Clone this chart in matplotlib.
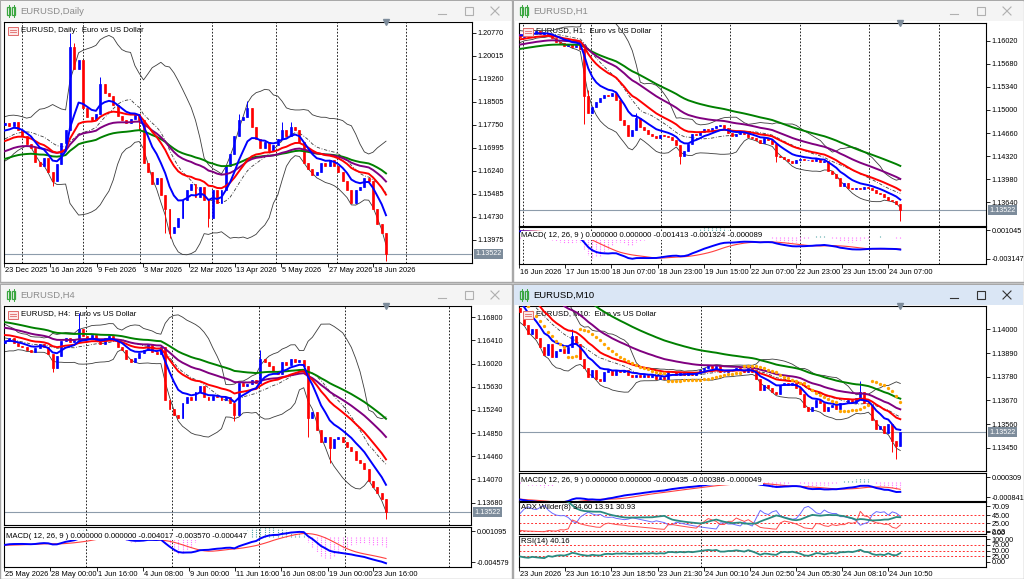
import numpy as np
import pandas as pd
import matplotlib
matplotlib.use('Agg')
import matplotlib.pyplot as plt
from matplotlib.patches import Rectangle

plt.rcParams['font.family'] = ['Liberation Sans', 'DejaVu Sans']

W, H = 1024, 579

# ------------------------------------------------------------------ data
daily_warm = [1.1590, 1.1600, 1.1620, 1.1610, 1.1640, 1.1630, 1.1655, 1.1660, 1.1645, 1.1670,
              1.1680, 1.1665, 1.1690, 1.1700, 1.1690, 1.1720, 1.1735, 1.1720, 1.1745, 1.1760,
              1.1750, 1.1770, 1.1765, 1.1775]
daily_close = [1.1780, 1.1772, 1.1785, 1.1760, 1.1738, 1.1712, 1.1700, 1.1655, 1.1640, 1.1668,
               1.1620, 1.1590, 1.1648, 1.1715, 1.1760, 1.2030, 1.1960, 1.1990, 1.1830, 1.1800,
               1.1790, 1.1810, 1.1910, 1.1880, 1.1870, 1.1840, 1.1805, 1.1790, 1.1780, 1.1795,
               1.1810, 1.1790, 1.1650, 1.1620, 1.1580, 1.1600, 1.1545, 1.1500, 1.1420, 1.1440,
               1.1470, 1.1530, 1.1560, 1.1580, 1.1540, 1.1570, 1.1530, 1.1470, 1.1560, 1.1520,
               1.1560, 1.1640, 1.1680, 1.1740, 1.1790, 1.1800, 1.1830, 1.1770, 1.1730, 1.1700,
               1.1720, 1.1690, 1.1710, 1.1730, 1.1760, 1.1740, 1.1770, 1.1760, 1.1720, 1.1650,
               1.1630, 1.1610, 1.1620, 1.1650, 1.1640, 1.1660, 1.1640, 1.1620, 1.1590, 1.1560,
               1.1520, 1.1560, 1.1570, 1.1600, 1.1590, 1.1500, 1.1450, 1.1420, 1.13522]
daily_high_ext = {15: 1.2077, 16: 1.2045, 22: 1.1932, 54: 1.1810, 56: 1.1855, 64: 1.1785, 66: 1.1785}
daily_low_ext = {11: 1.1575, 31: 1.1760, 37: 1.1420, 38: 1.1405, 47: 1.1440, 88: 1.1330}
daily_ticks = [1.20770, 1.20015, 1.19260, 1.18505, 1.17750, 1.16995, 1.16240, 1.15485, 1.14730, 1.13975]
daily_times = ["23 Dec 2025", "16 Jan 2026", "9 Feb 2026", "3 Mar 2026", "22 Mar 2026",
               "13 Apr 2026", "5 May 2026", "27 May 2026", "18 Jun 2026"]

h1_warm = [1.1570, 1.1565, 1.1575, 1.1580, 1.1578, 1.1585, 1.1590, 1.1588, 1.1595, 1.1600,
           1.1598, 1.1603, 1.1605, 1.1602, 1.1607, 1.1610, 1.1606, 1.1609, 1.1612, 1.1610,
           1.1613, 1.1611, 1.1614, 1.1612]
h1_close = [1.1608, 1.1612, 1.1615, 1.1613, 1.1616, 1.1612, 1.1614, 1.1611, 1.1606, 1.1600,
            1.1598, 1.1594, 1.1597, 1.1592, 1.1596, 1.1590, 1.1520, 1.1495, 1.1505, 1.1512,
            1.1518, 1.1522, 1.1520, 1.1525, 1.1515, 1.1485, 1.1478, 1.1462, 1.1470, 1.1488,
            1.1475, 1.1470, 1.1465, 1.1462, 1.1458, 1.1463, 1.1462, 1.1460, 1.1455, 1.1448,
            1.1432, 1.1440, 1.1450, 1.1465, 1.1463, 1.1468, 1.1472, 1.1470, 1.1474, 1.1476,
            1.1478, 1.1474, 1.1466, 1.1462, 1.1465, 1.1468, 1.1465, 1.1460, 1.1458, 1.1455,
            1.1452, 1.1458, 1.1455, 1.1450, 1.1432, 1.1430, 1.1428, 1.1425, 1.1422, 1.1426,
            1.1428, 1.1426, 1.1427, 1.1425, 1.1428, 1.1423, 1.1425, 1.1410, 1.1405, 1.1400,
            1.1388, 1.1392, 1.1385, 1.1383, 1.1385, 1.1384, 1.1386, 1.1385, 1.1382, 1.1378,
            1.1376, 1.1372, 1.1368, 1.1366, 1.1362, 1.13522]
h1_high_ext = {17: 1.1530, 29: 1.1495}
h1_low_ext = {16: 1.1480, 40: 1.1420, 64: 1.1424, 95: 1.1337}
h1_ticks = [1.16020, 1.15680, 1.15340, 1.15000, 1.14660, 1.14320, 1.13980, 1.13640]
h1_macd_ticks = [0.001045, -0.003147]
h1_times = ["16 Jun 2026", "17 Jun 15:00", "18 Jun 07:00", "18 Jun 23:00", "19 Jun 15:00",
            "22 Jun 07:00", "22 Jun 23:00", "23 Jun 15:00", "24 Jun 07:00"]

h4_warm = [1.1700, 1.1695, 1.1690, 1.1696, 1.1685, 1.1680, 1.1686, 1.1675, 1.1670, 1.1676,
           1.1665, 1.1660, 1.1666, 1.1652, 1.1648, 1.1655, 1.1640, 1.1636, 1.1642, 1.1630,
           1.1636, 1.1642, 1.1630, 1.1636]
h4_close = [1.1640, 1.1645, 1.1636, 1.1632, 1.1630, 1.1625, 1.1622, 1.1628, 1.1635, 1.1630,
            1.1618, 1.1595, 1.1615, 1.1640, 1.1645, 1.1638, 1.1642, 1.1660, 1.1648, 1.1645,
            1.1650, 1.1640, 1.1635, 1.1645, 1.1648, 1.1642, 1.1630, 1.1625, 1.1610, 1.1605,
            1.1612, 1.1620, 1.1625, 1.1635, 1.1622, 1.1618, 1.1630, 1.1540, 1.1525, 1.1515,
            1.1510, 1.1535, 1.1545, 1.1540, 1.1555, 1.1565, 1.1545, 1.1540, 1.1548, 1.1545,
            1.1540, 1.1545, 1.1535, 1.1515, 1.1570, 1.1565, 1.1568, 1.1575, 1.1570, 1.1610,
            1.1605, 1.1598, 1.1590, 1.1585, 1.1605, 1.1600, 1.1610, 1.1605, 1.1608, 1.1598,
            1.1510, 1.1520, 1.1490, 1.1470, 1.1478, 1.1460, 1.1475, 1.1478, 1.1470, 1.1462,
            1.1455, 1.1440, 1.1435, 1.1425, 1.1405, 1.1395, 1.1385, 1.1375, 1.13522]
h4_high_ext = {17: 1.1687, 59: 1.1625}
h4_low_ext = {11: 1.1588, 53: 1.1505, 70: 1.1478, 75: 1.1435, 88: 1.1340}
h4_ticks = [1.16800, 1.16410, 1.16020, 1.15630, 1.15240, 1.14850, 1.14460, 1.14070, 1.13680]
h4_macd_ticks = [0.001095, -0.004579]
h4_times = ["25 May 2026", "28 May 00:00", "1 Jun 16:00", "4 Jun 08:00", "9 Jun 00:00",
            "11 Jun 16:00", "16 Jun 08:00", "19 Jun 00:00", "23 Jun 16:00"]

m10_warm = [1.1455, 1.1452, 1.1448, 1.1450, 1.1444, 1.1441, 1.1438, 1.1440, 1.1434, 1.1431,
            1.1433, 1.1427, 1.1424, 1.1426, 1.1420, 1.1418, 1.1420, 1.1415, 1.1413, 1.1416,
            1.1411, 1.1409, 1.1412, 1.1410]
m10_close = [1.1408, 1.1402, 1.1398, 1.1400, 1.1396, 1.1392, 1.1388, 1.1393, 1.1387, 1.1390,
             1.1391, 1.1389, 1.1392, 1.1397, 1.1393, 1.1386, 1.1382, 1.1378, 1.1381, 1.1377,
             1.1376, 1.1380, 1.1381, 1.1379, 1.1381, 1.1380, 1.1381, 1.1379, 1.1378, 1.1379,
             1.1378, 1.1379, 1.1378, 1.1379, 1.1377, 1.1378, 1.1377, 1.1380, 1.1380, 1.1379,
             1.1380, 1.1379, 1.1380, 1.1379, 1.1380, 1.1381, 1.1382, 1.1383, 1.1382, 1.1383,
             1.1380, 1.1380, 1.1381, 1.1381, 1.1382, 1.1381, 1.1380, 1.1382, 1.1380, 1.1377,
             1.1372, 1.1374, 1.1373, 1.1371, 1.1370, 1.1374, 1.1375, 1.1374, 1.1375, 1.1373,
             1.1370, 1.1364, 1.1362, 1.1364, 1.1367, 1.1366, 1.1362, 1.1364, 1.1365, 1.1363,
             1.1366, 1.1366, 1.1367, 1.1366, 1.1368, 1.1371, 1.1366, 1.1365, 1.1358, 1.1354,
             1.1355, 1.1352, 1.1356, 1.1348, 1.1346, 1.13522]
m10_high_ext = {13: 1.1400, 85: 1.1376}
m10_low_ext = {93: 1.1343, 94: 1.1340}
m10_ticks = [1.14000, 1.13890, 1.13780, 1.13670, 1.13560, 1.13450]
m10_macd_ticks = [0.000309, -0.000841]
m10_adx_ticks = [70.09, 45.00, 25.00, 2.63, 0.00]
m10_rsi_ticks = [100.00, 75.00, 50.00, 25.00, 0.00]
m10_times = ["23 Jun 2026", "23 Jun 16:10", "23 Jun 18:50", "23 Jun 21:30", "24 Jun 00:10",
             "24 Jun 02:50", "24 Jun 05:30", "24 Jun 08:10", "24 Jun 10:50"]

current_price = 1.13522

# ------------------------------------------------------------------ helpers
fig = plt.figure(figsize=(W / 100, H / 100), dpi=100)
fig.patch.set_facecolor('#d6d6d6')
bg = fig.add_axes([0, 0, 1, 1])
bg.set_xlim(0, W)
bg.set_ylim(H, 0)
bg.axis('off')

FS = 5.2
MA_SPANS = ((50, '#008000'), (32, '#800080'), (18, '#ff0000'), (8, '#0000ff'))


def rect(x0, y0, x1, y1):
    return [x0 / W, 1 - y1 / H, (x1 - x0) / W, (y1 - y0) / H]


def draw_window(x0, y0, x1, y1, title, active):
    bg.add_patch(Rectangle((x0, y0), x1 - x0, y1 - y0, facecolor='white',
                           edgecolor='#a8a8a8', lw=1.0))
    tb = '#dae6f5' if active else '#f4f4f4'
    bg.add_patch(Rectangle((x0 + 1, y0 + 1), x1 - x0 - 2, 20, facecolor=tb, edgecolor='none'))
    for dx in (7, 12):
        bg.add_patch(Rectangle((x0 + dx, y0 + 7), 3, 8, facecolor='none',
                               edgecolor='#3aa640', lw=0.9))
        bg.plot([x0 + dx + 1.5, x0 + dx + 1.5], [y0 + 5, y0 + 17], color='#3aa640', lw=0.7)
    tc = '#000000' if active else '#8c8c8c'
    bg.text(x0 + 20, y0 + 11, title, fontsize=6.8, color=tc, va='center', ha='left')
    bc = '#333333' if active else '#b0b0b0'
    bg.plot([x1 - 74, x1 - 66], [y0 + 14, y0 + 14], color=bc, lw=0.8)
    bg.add_patch(Rectangle((x1 - 47, y0 + 7), 8, 8, facecolor='none', edgecolor=bc, lw=0.8))
    bg.plot([x1 - 21, x1 - 13], [y0 + 7, y0 + 15], color=bc, lw=0.8)
    bg.plot([x1 - 21, x1 - 13], [y0 + 15, y0 + 7], color=bc, lw=0.8)


def ohlc(warm, closes, hi_ext, lo_ext):
    full = np.array(list(warm) + list(closes), dtype=float)
    op = np.concatenate([[full[0]], full[:-1]])
    hi = np.maximum(op, full)
    lo = np.minimum(op, full)
    nw = len(warm)
    for k, v in hi_ext.items():
        hi[nw + k] = v
    for k, v in lo_ext.items():
        lo[nw + k] = v
    return full, op, hi, lo, nw


def ema(x, span):
    return pd.Series(x).ewm(span=span, adjust=False).mean().values


def style_axis(ax):
    ax.set_facecolor('white')
    for s in ax.spines.values():
        s.set_linewidth(0.8)
        s.set_color('#000000')
    ax.yaxis.tick_right()
    ax.tick_params(axis='y', length=3, width=0.6, pad=1, labelsize=FS, colors='black')
    ax.tick_params(axis='x', length=0, labelbottom=False)


def make_xmap(first_px, last_px, n):
    ppb = (last_px - first_px) / (n - 1)
    return lambda px: (px - first_px) / ppb


def psar(high, low, step=0.02, mx=0.2):
    n = len(high)
    out = np.zeros(n)
    up = True
    af = step
    ep = high[0]
    out[0] = low[0]
    for i in range(1, n):
        sv = out[i - 1] + af * (ep - out[i - 1])
        if up:
            sv = min(sv, low[i - 1], low[max(i - 2, 0)])
            if low[i] < sv:
                up = False
                sv = ep
                ep = low[i]
                af = step
            elif high[i] > ep:
                ep = high[i]
                af = min(af + step, mx)
        else:
            sv = max(sv, high[i - 1], high[max(i - 2, 0)])
            if high[i] > sv:
                up = True
                sv = ep
                ep = high[i]
                af = step
            elif low[i] < ep:
                ep = low[i]
                af = min(af + step, mx)
        out[i] = sv
    return out


def price_chart(ax, warm, closes, hi_ext, lo_ext, ylim, ticks, header, sar=False):
    full, op, hi, lo, nw = ohlc(warm, closes, hi_ext, lo_ext)
    n = len(closes)
    x = np.arange(n)
    s = slice(nw, None)
    c = full[s]
    o = op[s]
    col = np.where(c >= o, '#0000ff', '#ff0000')
    sr = pd.Series(full)
    mid = sr.rolling(15, min_periods=1).mean().values
    sd = sr.rolling(15, min_periods=1).std(ddof=0).values
    ax.plot(x, (mid + 2 * sd)[s], color='#3c3c3c', lw=0.6, zorder=2)
    ax.plot(x, (mid - 2 * sd)[s], color='#3c3c3c', lw=0.6, zorder=2)
    ax.plot(x, mid[s], color='#3c3c3c', lw=0.6, ls=(0, (4, 2, 1, 2)), zorder=2)
    ax.vlines(x, lo[s], hi[s], colors=col, lw=0.7, zorder=3)
    ax.bar(x, c - o, bottom=o, width=0.45, color=col, edgecolor=col, lw=0.5, zorder=3)
    for span, cc in MA_SPANS:
        ax.plot(x, ema(full, span)[s], color=cc, lw=1.4, zorder=4)
    if sar:
        sv = psar(hi, lo)
        ax.plot(x, sv[s], ls='none', marker='o', ms=2.4, color='#ffa500',
                mec='none', zorder=5)
    ax.axhline(current_price, color='#8d9cab', lw=0.8, zorder=1)
    ax.set_ylim(*ylim)
    ax.set_yticks(ticks)
    ax.set_yticklabels(['%.5f' % t for t in ticks])
    ax.annotate('%.5f' % current_price, xy=(1, current_price),
                xycoords=('axes fraction', 'data'), xytext=(3, 0),
                textcoords='offset pixels', ha='left', va='center', fontsize=FS,
                color='white', bbox=dict(boxstyle='square,pad=0.2', fc='#7d8c9b', ec='none'))
    ax.plot([n - 1], [1.0], marker='v', ms=4, color='#7d8c9b',
            transform=ax.get_xaxis_transform(), clip_on=False, zorder=6)
    ax.annotate(header, xy=(0, 1), xycoords='axes fraction', xytext=(17, -8),
                textcoords='offset pixels', ha='left', va='center', fontsize=FS + 0.4,
                color='black', zorder=1)
    return full, nw


def macd_panel(ax, full, nw, ticks, ylim, label):
    n = len(full) - nw
    x = np.arange(n)
    m = ema(full, 12) - ema(full, 26)
    sig = pd.Series(m).rolling(9, min_periods=1).mean().values
    hist = (m - sig)[nw:] * 2
    ax.vlines(x, 0, hist, colors=np.where(hist >= 0, '#4aa3a3', '#ff70ff'),
              lw=0.8, ls=(0, (1, 1)), zorder=2)
    ax.plot(x, sig[nw:], color='#ff4040', lw=0.8, zorder=3)
    ax.plot(x, m[nw:], color='#0000ff', lw=1.4, zorder=4)
    ax.set_ylim(*ylim)
    ax.set_yticks(ticks)
    ax.set_yticklabels(['%.6f' % t for t in ticks])
    ax.text(0.005, 0.86, label, transform=ax.transAxes, fontsize=FS + 0.4, va='top',
            ha='left', zorder=5, bbox=dict(boxstyle='square,pad=0.1', fc='white', ec='none'))


def rsi(full, n=14):
    d = np.diff(full, prepend=full[0])
    g = pd.Series(np.where(d > 0, d, 0.0)).ewm(alpha=1 / n, adjust=False).mean().values
    l_ = pd.Series(np.where(d < 0, -d, 0.0)).ewm(alpha=1 / n, adjust=False).mean().values
    return 100 - 100 / (1 + g / np.maximum(l_, 1e-12))


def adx(hi, lo, cl, n=8):
    up = np.diff(hi, prepend=hi[0])
    dn = -np.diff(lo, prepend=lo[0])
    pdm = np.where((up > dn) & (up > 0), up, 0.0)
    mdm = np.where((dn > up) & (dn > 0), dn, 0.0)
    pc = np.concatenate([[cl[0]], cl[:-1]])
    tr = np.maximum.reduce([hi - lo, np.abs(hi - pc), np.abs(lo - pc)]) + 1e-9
    w = lambda v: pd.Series(v).ewm(alpha=1 / n, adjust=False).mean().values
    atr = w(tr)
    pdi = 100 * w(pdm) / atr
    mdi = 100 * w(mdm) / atr
    dx = 100 * np.abs(pdi - mdi) / (pdi + mdi + 1e-9)
    return w(dx), pdi, mdi


def time_axis(ax, xm, time_px, labels, grid_axes, grid_px):
    for gpx in grid_px:
        for g in grid_axes:
            g.axvline(xm(gpx), color='#000000', lw=0.6, ls=(0, (2, 2)), zorder=1)
    pos = [xm(p) for p in time_px]
    ax.set_xticks(pos)
    ax.tick_params(axis='x', length=3, width=0.6, labelbottom=False, direction='out')
    for p, lab in zip(pos, labels):
        ax.annotate(lab, xy=(p, 0), xycoords=('data', 'axes fraction'), xytext=(1, -8),
                    textcoords='offset pixels', ha='left', va='center', fontsize=FS + 0.2,
                    color='black')


# ------------------------------------------------------------------ windows
draw_window(0, 0, 512, 282, 'EURUSD,Daily', False)
draw_window(513, 0, 1024, 282, 'EURUSD,H1', False)
draw_window(0, 284, 512, 579, 'EURUSD,H4', False)
draw_window(513, 284, 1024, 579, 'EURUSD,M10', True)

# ---- Daily
axd = fig.add_axes(rect(4, 22, 472, 263))
style_axis(axd)
nd = len(daily_close)
xm = make_xmap(5, 386, nd)
axd.set_xlim(xm(4), xm(472))
fd, nwd = price_chart(axd, daily_warm, daily_close, daily_high_ext, daily_low_ext,
                      (1.1322, 1.21131), daily_ticks, 'EURUSD, Daily:  Euro vs US Dollar')
time_axis(axd, xm, [4, 50, 97, 143, 189, 235, 281, 328, 373], daily_times, [axd],
          [22, 83, 140, 212, 276, 337, 406])

# ---- H1
ax1 = fig.add_axes(rect(519, 23, 986, 226))
ax1m = fig.add_axes(rect(519, 227, 986, 264))
for a in (ax1, ax1m):
    style_axis(a)
n1 = len(h1_close)
xm1 = make_xmap(520.3, 900.3, n1)
for a in (ax1, ax1m):
    a.set_xlim(xm1(519), xm1(986))
f1, nw1 = price_chart(ax1, h1_warm, h1_close, h1_high_ext, h1_low_ext,
                      (1.13291, 1.1628), h1_ticks, 'EURUSD, H1:  Euro vs US Dollar')
macd_panel(ax1m, f1, nw1, h1_macd_ticks, (-0.00387, 0.001479),
           'MACD( 12, 26, 9 ) 0.000000 0.000000 -0.001413 -0.001324 -0.000089')
time_axis(ax1m, xm1, [519.3, 565.3, 611.3, 657.7, 703.7, 749.7, 796, 842, 888], h1_times,
          [ax1, ax1m], [522.7, 591.3, 661, 730.3, 799.7, 869.3, 938.7])

# ---- H4
ax4 = fig.add_axes(rect(4, 306, 471, 525))
ax4m = fig.add_axes(rect(4, 527, 471, 567))
for a in (ax4, ax4m):
    style_axis(a)
n4 = len(h4_close)
xm4 = make_xmap(5, 386, n4)
for a in (ax4, ax4m):
    a.set_xlim(xm4(4), xm4(471))
f4, nw4 = price_chart(ax4, h4_warm, h4_close, h4_high_ext, h4_low_ext,
                      (1.13304, 1.1699), h4_ticks, 'EURUSD, H4:  Euro vs US Dollar')
macd_panel(ax4m, f4, nw4, h4_macd_ticks, (-0.00543, 0.00182),
           'MACD( 12, 26, 9 ) 0.000000 0.000000 -0.004017 -0.003570 -0.000447')
time_axis(ax4m, xm4, [4, 50, 97, 143, 189, 235, 281, 328, 373], h4_times,
          [ax4, ax4m], [85.7, 172, 258.7, 345.3, 449.3])

# ---- M10
axm = fig.add_axes(rect(519, 306, 986, 471))
axmm = fig.add_axes(rect(519, 473, 986, 501))
axma = fig.add_axes(rect(519, 502, 986, 534))
axmr = fig.add_axes(rect(519, 536, 986, 567))
for a in (axm, axmm, axma, axmr):
    style_axis(a)
nm = len(m10_close)
xmm = make_xmap(520.3, 900.3, nm)
for a in (axm, axmm, axma, axmr):
    a.set_xlim(xmm(519), xmm(986))
fm, nwm = price_chart(axm, m10_warm, m10_close, m10_high_ext, m10_low_ext,
                      (1.13343, 1.14108), m10_ticks, 'EURUSD, M10:  Euro vs US Dollar', sar=True)
macd_panel(axmm, fm, nwm, m10_macd_ticks, (-0.001071, 0.000539),
           'MACD( 12, 26, 9 ) 0.000000 0.000000 -0.000435 -0.000386 -0.000049')
full_m, op_m, hi_m, lo_m, _ = ohlc(m10_warm, m10_close, m10_high_ext, m10_low_ext)
xa = np.arange(nm)
adx_v, pdi_v, mdi_v = adx(hi_m, lo_m, full_m, 8)
for lvl in (45, 25, 2.63):
    axma.axhline(lvl, color='#ff3030', lw=0.7, ls=(0, (2, 2)), zorder=1)
axma.plot(xa, mdi_v[nwm:], color='#6a6aff', lw=0.7, zorder=2)
axma.plot(xa, pdi_v[nwm:], color='#ff4a4a', lw=0.7, zorder=2)
axma.plot(xa, adx_v[nwm:], color='#2a8a80', lw=1.3, zorder=3)
axma.set_ylim(-4, 80.7)
axma.set_yticks(m10_adx_ticks)
axma.set_yticklabels(['%.2f' % t for t in m10_adx_ticks])
axma.text(0.005, 0.93, 'ADX Wilder(8) 34.60 13.91 30.93', transform=axma.transAxes,
          fontsize=FS + 0.4, va='top', ha='left', zorder=5)
rsi_v = rsi(full_m, 14)
for lvl in (75, 50, 25):
    axmr.axhline(lvl, color='#ff3030', lw=0.7, ls=(0, (2, 2)), zorder=1)
axmr.plot(xa, rsi_v[nwm:], color='#2a8a80', lw=1.3, zorder=3)
axmr.set_ylim(-23.6, 114.9)
axmr.set_yticks(m10_rsi_ticks)
axmr.set_yticklabels(['%.2f' % t for t in m10_rsi_ticks])
axmr.text(0.005, 0.93, 'RSI(14) 40.16', transform=axmr.transAxes,
          fontsize=FS + 0.4, va='top', ha='left', zorder=5)
time_axis(axmr, xmm, [519.3, 565.3, 611.3, 657.7, 703.7, 749.7, 796, 842, 888], m10_times,
          [axm, axmm, axma, axmr], [701.3])

# header icons drawn on top in pixel coordinates
ov = fig.add_axes([0, 0, 1, 1])
ov.set_xlim(0, W)
ov.set_ylim(H, 0)
ov.axis('off')
ov.patch.set_alpha(0)
for (ix, iy) in ((8, 27), (523, 28), (8, 311), (523, 311)):
    ov.add_patch(Rectangle((ix, iy), 10, 8, facecolor='#fde8e8', edgecolor='#e06a6a', lw=0.7))
    for yy in (iy + 2.7, iy + 5.3):
        ov.plot([ix + 2, ix + 8], [yy, yy], color='#e06a6a', lw=0.6)

fig.savefig('out.png', dpi=100, facecolor=fig.get_facecolor())
